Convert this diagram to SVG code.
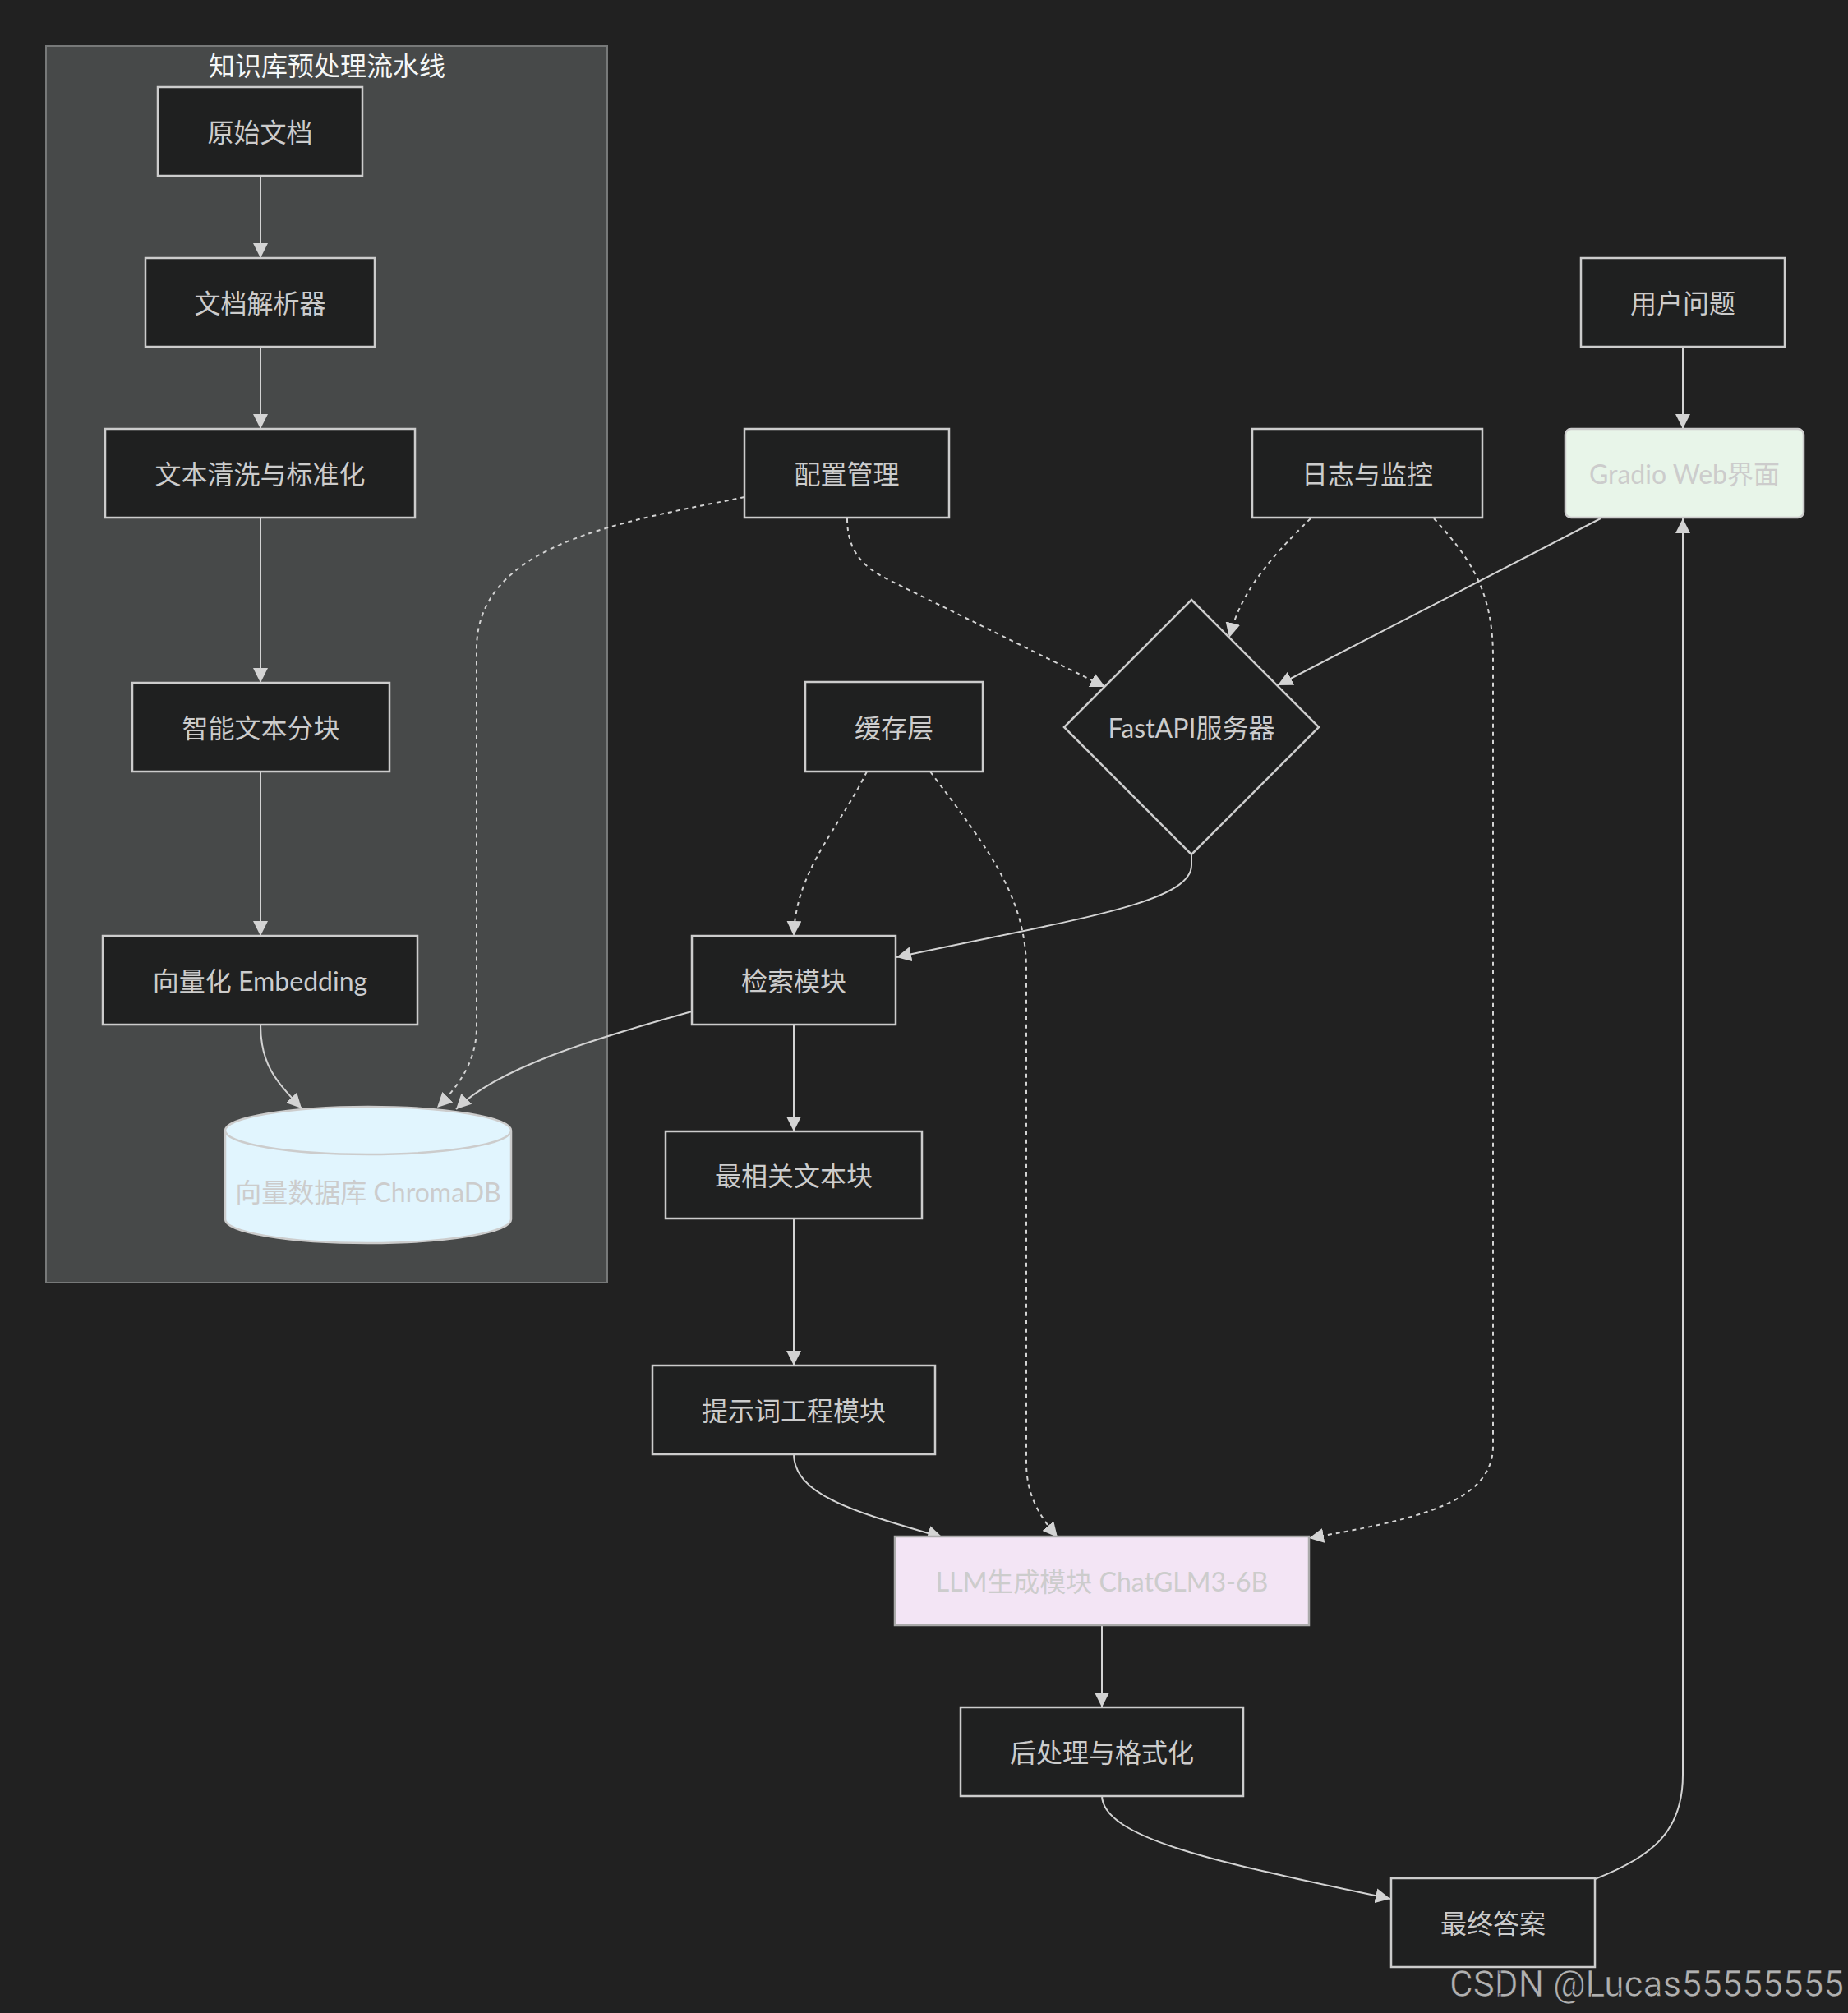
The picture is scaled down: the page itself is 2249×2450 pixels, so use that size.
<svg xmlns="http://www.w3.org/2000/svg" width="2249" height="2450" viewBox="0 0 2249 2450">
<style>
.bg{fill:#212121}
.node rect,.node polygon{fill:#1f2020;stroke:#cccccc;stroke-width:2.5}
.t{font-family:"Lato","Noto Sans CJK SC",sans-serif;font-size:32px;fill:#cccccc;text-anchor:middle;dominant-baseline:central}
.e{fill:none;stroke:#d3d3d3;stroke-width:2}
.d{stroke-dasharray:5 5}
</style>
<defs>
<marker id="ah" viewBox="0 0 10 10" refX="10" refY="5" markerUnits="userSpaceOnUse" markerWidth="18" markerHeight="18" orient="auto">
<path d="M0,0 L10,5 L0,10 z" fill="#d3d3d3"/>
</marker>
</defs>
<rect class="bg" x="0" y="0" width="2249" height="2450"/>
<g id="cluster">
<rect x="56" y="56" width="683" height="1505" fill="#474949" stroke="#777979" stroke-width="2"/>
<text x="398" y="79" class="t" style="fill:#f5f7f7">知识库预处理流水线</text>
</g>
<g id="edges">
<path class="e" d="M317,214 L317,314" marker-end="url(#ah)"/>
<path class="e" d="M317,422 L317,522" marker-end="url(#ah)"/>
<path class="e" d="M317,630 L317,831" marker-end="url(#ah)"/>
<path class="e" d="M317,939 L317,1139" marker-end="url(#ah)"/>
<path class="e" d="M317,1247 C317,1295 335,1315 367,1349" marker-end="url(#ah)"/>
<path class="e d" d="M906,605 C760,635 580,660 580,790 L580,1250 C580,1290 560,1320 532,1348" marker-end="url(#ah)"/>
<path class="e" d="M842,1231 C720,1265 605,1300 555,1350" marker-end="url(#ah)"/>
<path class="e d" d="M1031,631 C1031,670 1050,690 1080,705 L1345,836" marker-end="url(#ah)"/>
<path class="e d" d="M1595,631 C1545,680 1510,720 1496,776" marker-end="url(#ah)"/>
<path class="e" d="M1948,631 L1555,834" marker-end="url(#ah)"/>
<path class="e" d="M2048,422 L2048,522" marker-end="url(#ah)"/>
<path class="e d" d="M1745,631 C1790,680 1817,720 1817,800 L1817,1760 C1817,1830 1720,1850 1593,1872" marker-end="url(#ah)"/>
<path class="e d" d="M1055,939 C1020,1010 968,1060 966,1139" marker-end="url(#ah)"/>
<path class="e d" d="M1132,939 C1200,1030 1249,1090 1249,1180 L1249,1780 C1249,1820 1265,1845 1287,1871" marker-end="url(#ah)"/>
<path class="e" d="M1450,1039 L1450,1053 C1450,1100 1300,1120 1091,1165" marker-end="url(#ah)"/>
<path class="e" d="M966,1247 L966,1377" marker-end="url(#ah)"/>
<path class="e" d="M966,1483 L966,1662" marker-end="url(#ah)"/>
<path class="e" d="M966,1769 C966,1820 1040,1840 1147,1871" marker-end="url(#ah)"/>
<path class="e" d="M1341,1977 L1341,2078" marker-end="url(#ah)"/>
<path class="e" d="M1341,2185 C1341,2240 1500,2270 1692,2311" marker-end="url(#ah)"/>
<path class="e" d="M1941,2287 C2010,2260 2048,2230 2048,2160 L2048,631" marker-end="url(#ah)"/>
</g>
<g id="n_raw" class="node"><rect x="192" y="106" width="249" height="108"/><text class="t" x="316.5" y="160">原始文档</text></g>
<g id="n_parser" class="node"><rect x="177" y="314" width="279" height="108"/><text class="t" x="316.5" y="368">文档解析器</text></g>
<g id="n_clean" class="node"><rect x="128" y="522" width="377" height="108"/><text class="t" x="316.5" y="576">文本清洗与标准化</text></g>
<g id="n_chunk" class="node"><rect x="161" y="831" width="313" height="108"/><text class="t" x="317.5" y="885">智能文本分块</text></g>
<g id="n_embed" class="node"><rect x="125" y="1139" width="383" height="108"/><text class="t" x="316.5" y="1193">向量化 Embedding</text></g>
<g id="n_db">
<path d="M274,1376 a174,29 0 0 0 348,0 a174,29 0 0 0 -348,0 l0,108 a174,29 0 0 0 348,0 l0,-108" fill="#e1f5fe" stroke="#cccccc" stroke-width="2.5"/>
<text class="t" x="448" y="1450">向量数据库 ChromaDB</text>
</g>
<g id="n_user" class="node"><rect x="1924" y="314" width="248" height="108"/><text class="t" x="2048" y="368">用户问题</text></g>
<g id="n_gradio"><rect x="1905" y="522" width="290" height="108" rx="7" fill="#e8f5e9" stroke="#cccccc" stroke-width="2.5"/><text class="t" x="2050" y="576">Gradio Web界面</text></g>
<g id="n_config" class="node"><rect x="906" y="522" width="249" height="108"/><text class="t" x="1030.5" y="576">配置管理</text></g>
<g id="n_log" class="node"><rect x="1524" y="522" width="280" height="108"/><text class="t" x="1664" y="576">日志与监控</text></g>
<g id="n_api" class="node"><polygon points="1450,730 1605,885 1450,1040 1295,885"/><text class="t" x="1450" y="885">FastAPI服务器</text></g>
<g id="n_cache" class="node"><rect x="980" y="830" width="216" height="109"/><text class="t" x="1088" y="885">缓存层</text></g>
<g id="n_retr" class="node"><rect x="842" y="1139" width="248" height="108"/><text class="t" x="966" y="1193">检索模块</text></g>
<g id="n_top" class="node"><rect x="810" y="1377" width="312" height="106"/><text class="t" x="966" y="1430">最相关文本块</text></g>
<g id="n_prompt" class="node"><rect x="794" y="1662" width="344" height="108"/><text class="t" x="966" y="1716">提示词工程模块</text></g>
<g id="n_llm"><rect x="1089" y="1870" width="504" height="108" fill="#f3e5f5" stroke="#aaaaaa" stroke-width="2.5"/><text class="t" x="1341" y="1924">LLM生成模块 ChatGLM3-6B</text></g>
<g id="n_post" class="node"><rect x="1169" y="2078" width="344" height="108"/><text class="t" x="1341" y="2132">后处理与格式化</text></g>
<g id="n_final" class="node"><rect x="1693" y="2286" width="248" height="108"/><text class="t" x="1817" y="2340">最终答案</text></g>
<text x="2244" y="2430" style="font-family:Roboto,'Liberation Sans',sans-serif;font-size:44px;fill:#b0b0b0;text-anchor:end;stroke:#111;stroke-width:0.6">CSDN @Lucas55555555</text>
</svg>
